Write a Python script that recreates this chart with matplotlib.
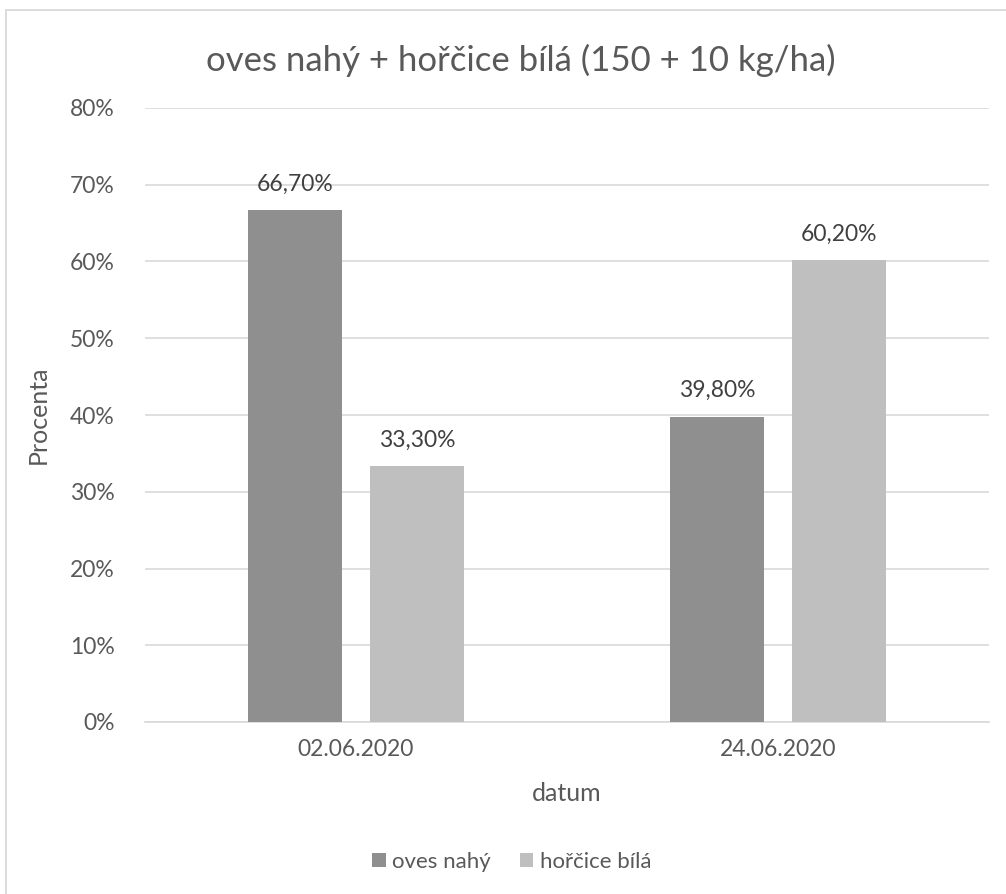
import matplotlib.pyplot as plt
import numpy as np
from matplotlib.patches import Rectangle

plt.rcParams["font.family"] = ["Lato", "DejaVu Sans"]
plt.rcParams["font.size"] = 16

# data
dates = ["02.06.2020", "24.06.2020"]
oves = [66.7, 39.8]
horcice = [33.3, 60.2]
series_names = ["oves nahý", "hořčice bílá"]

txt_col = "#595959"
c_dark = "#8f8f8f"
c_light = "#bfbfbf"

fig = plt.figure(figsize=(10.06, 8.94), dpi=100)
ax = fig.add_axes([145 / 1006, (894 - 722) / 894, (989 - 145) / 1006, (722 - 108) / 894])

# outer chart border (Excel style)
fig.patches.append(Rectangle((6 / 1006, -0.1), 1.2, (894 - 10) / 894 + 0.1,
                             transform=fig.transFigure, fill=False,
                             edgecolor="#d9d9d9", linewidth=1.3))

x = np.arange(len(dates))
w = 0.223
off = 0.144
b1 = ax.bar(x - off, oves, w, color=c_dark, label=series_names[0], zorder=3)
b2 = ax.bar(x + off, horcice, w, color=c_light, label=series_names[1], zorder=3)

for bars, vals in [(b1, oves), (b2, horcice)]:
    for b, v in zip(bars, vals):
        ax.text(b.get_x() + b.get_width() / 2, v + 2.0, f"{v:.2f}%".replace(".", ","),
                ha="center", va="bottom", color="#404040", fontsize=16.5)

ax.set_xlim(-0.5, 1.5)
ax.set_ylim(0, 80)
ax.set_yticks(np.arange(0, 81, 10))
ax.set_yticklabels([f"{t}%" for t in range(0, 81, 10)])
ax.set_xticks(x)
ax.set_xticklabels(dates)
ax.tick_params(length=0, colors=txt_col, labelsize=16.5)
ax.tick_params(axis="x", pad=12)
ax.tick_params(axis="y", pad=22)
ax.grid(axis="y", color="#d9d9d9", linewidth=1.2, zorder=0)
for s in ["top", "right", "left"]:
    ax.spines[s].set_visible(False)
ax.spines["bottom"].set_color("#d9d9d9")
ax.spines["bottom"].set_linewidth(1.2)

ax.set_xlabel("datum", color=txt_col, fontsize=18, labelpad=16)
ax.set_ylabel("Procenta", color=txt_col, fontsize=18, labelpad=14)

fig.text(0.518, 1 - 60 / 894, "oves nahý + hořčice bílá (150 + 10 kg/ha)",
         ha="center", va="center", fontsize=25, color=txt_col)

leg = fig.legend(handles=[b1, b2], loc="center", bbox_to_anchor=(0.509, 1 - 862 / 894),
                 ncol=2, frameon=False, fontsize=16, handlelength=0.6, handleheight=0.6,
                 columnspacing=1.3, handletextpad=0.3)
for t in leg.get_texts():
    t.set_color(txt_col)

fig.savefig("out.png", dpi=100)
